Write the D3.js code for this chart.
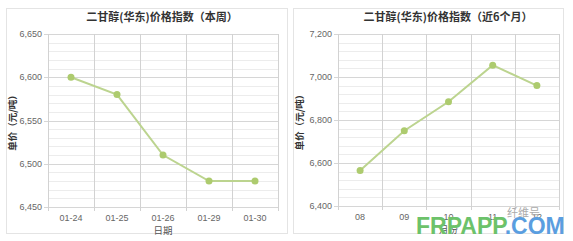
<!DOCTYPE html>
<html>
<head>
<meta charset="utf-8">
<script src="https://cdn.jsdelivr.net/npm/d3@7"></script>
<style>
  body { margin: 0; background: #fff; }
  svg { display: block; font-family: "Noto Sans CJK SC", "DejaVu Sans", sans-serif; }
</style>
</head>
<body>
<svg width="573" height="241"></svg>
<script>
// weekly chart data
var weekDays = ['01-24', '01-25', '01-26', '01-29', '01-30'];
var weekPrices = [6600, 6580, 6510, 6480, 6480];
var weekTicks = [6450, 6500, 6550, 6600, 6650];

// 6 month chart data
var months = ['08', '09', '10', '11', '12'];
var monthPrices = [6565, 6750, 6885, 7055, 6960];
var monthTicks = [6400, 6600, 6800, 7000, 7200];

var svg = d3.select('svg');

function panel(opt) {
  var g = svg.append('g');

  // panel border
  g.append('rect')
    .attr('x', opt.box[0] + 0.5).attr('y', opt.box[1] + 0.5)
    .attr('width', opt.box[2]).attr('height', opt.box[3])
    .attr('fill', '#fff').attr('stroke', '#e4e4e4');

  var x = d3.scaleBand().domain(opt.cats).range([opt.left, opt.right]);
  var y = d3.scaleLinear().domain([opt.ticks[0], opt.ticks[opt.ticks.length - 1]]).range([opt.bottom, opt.top]);

  // minor grid
  g.append('g').selectAll('line')
    .data(d3.range(opt.ticks[0], opt.ticks[opt.ticks.length - 1] + 0.1, opt.minor))
    .enter().append('line')
    .attr('x1', opt.left).attr('x2', opt.right)
    .attr('y1', function (d) { return Math.round(y(d)) + 0.5; })
    .attr('y2', function (d) { return Math.round(y(d)) + 0.5; })
    .attr('stroke', '#ececec');

  // major grid
  g.append('g').selectAll('line')
    .data(opt.ticks)
    .enter().append('line')
    .attr('x1', opt.left - 4).attr('x2', opt.right)
    .attr('y1', function (d) { return Math.round(y(d)) + 0.5; })
    .attr('y2', function (d) { return Math.round(y(d)) + 0.5; })
    .attr('stroke', '#d6d6d6');

  // vertical category separators
  var seps = opt.cats.map(function (c) { return x(c); }).concat([opt.right]);
  g.append('g').selectAll('line')
    .data(seps)
    .enter().append('line')
    .attr('x1', function (d) { return Math.round(d) + 0.5; })
    .attr('x2', function (d) { return Math.round(d) + 0.5; })
    .attr('y1', opt.top).attr('y2', opt.bottom + 4)
    .attr('stroke', '#d2d2d2');

  // y tick labels
  g.append('g').selectAll('text')
    .data(opt.ticks)
    .enter().append('text')
    .attr('x', opt.left - 6)
    .attr('y', function (d) { return y(d) + 3; })
    .attr('text-anchor', 'end')
    .attr('font-size', 9)
    .attr('fill', '#666')
    .attr('font-family', 'Liberation Sans, sans-serif')
    .text(d3.format(','));

  // x tick labels
  g.append('g').selectAll('text')
    .data(opt.cats)
    .enter().append('text')
    .attr('x', function (d) { return x(d) + x.bandwidth() / 2; })
    .attr('y', opt.bottom + 14)
    .attr('text-anchor', 'middle')
    .attr('font-size', 9)
    .attr('fill', '#666')
    .attr('font-family', 'Liberation Sans, sans-serif')
    .text(function (d) { return d; });

  // line + points
  var pts = opt.cats.map(function (c, i) { return [x(c) + x.bandwidth() / 2, y(opt.vals[i])]; });
  g.append('path')
    .attr('d', d3.line()(pts))
    .attr('fill', 'none')
    .attr('stroke', '#bcd48f')
    .attr('stroke-width', 2);
  g.append('g').selectAll('circle')
    .data(pts)
    .enter().append('circle')
    .attr('cx', function (d) { return d[0]; })
    .attr('cy', function (d) { return d[1]; })
    .attr('r', 3.5)
    .attr('fill', '#adcb6e');

  // title
  g.append('text')
    .attr('x', opt.titleX).attr('y', 21)
    .attr('text-anchor', 'middle')
    .attr('font-size', 11).attr('font-weight', 'bold')
    .attr('fill', '#333')
    .text(opt.title);

  // x axis title
  g.append('text')
    .attr('x', (opt.left + opt.right) / 2).attr('y', opt.bottom + 27)
    .attr('text-anchor', 'middle')
    .attr('font-size', 9.5)
    .attr('fill', '#555')
    .text(opt.xTitle);

  // y axis title
  g.append('text')
    .attr('transform', 'translate(' + (opt.box[0] + 10) + ',' + ((opt.top + opt.bottom) / 2) + ') rotate(-90)')
    .attr('text-anchor', 'middle')
    .attr('font-size', 9.5).attr('font-weight', 'bold')
    .attr('fill', '#333')
    .text('单价（元/吨）');
}

panel({
  box: [6, 8, 281, 225],
  left: 48, right: 278, top: 34, bottom: 207,
  cats: weekDays, vals: weekPrices, ticks: weekTicks, minor: 10,
  title: '二甘醇(华东)价格指数（本周）', titleX: 162, xTitle: '日期'
});

panel({
  box: [293, 8, 270, 225],
  left: 338, right: 559, top: 34, bottom: 206,
  cats: months, vals: monthPrices, ticks: monthTicks, minor: 40,
  title: '二甘醇(华东)价格指数（近6个月）', titleX: 448, xTitle: '月份'
});

// watermarks
svg.append('text')
  .attr('x', 507).attr('y', 217)
  .attr('font-size', 11)
  .attr('fill', '#aaa')
  .text('纤维号');

var wm = svg.append('text')
  .attr('x', 416).attr('y', 234)
  .attr('font-size', 23).attr('font-weight', 'bold')
  .attr('font-family', 'Liberation Sans, sans-serif');
wm.append('tspan').attr('fill', '#6cc26a').text('FRPAPP');
wm.append('tspan').attr('fill', '#5a9ee0').text('.COM');
</script>
</body>
</html>
